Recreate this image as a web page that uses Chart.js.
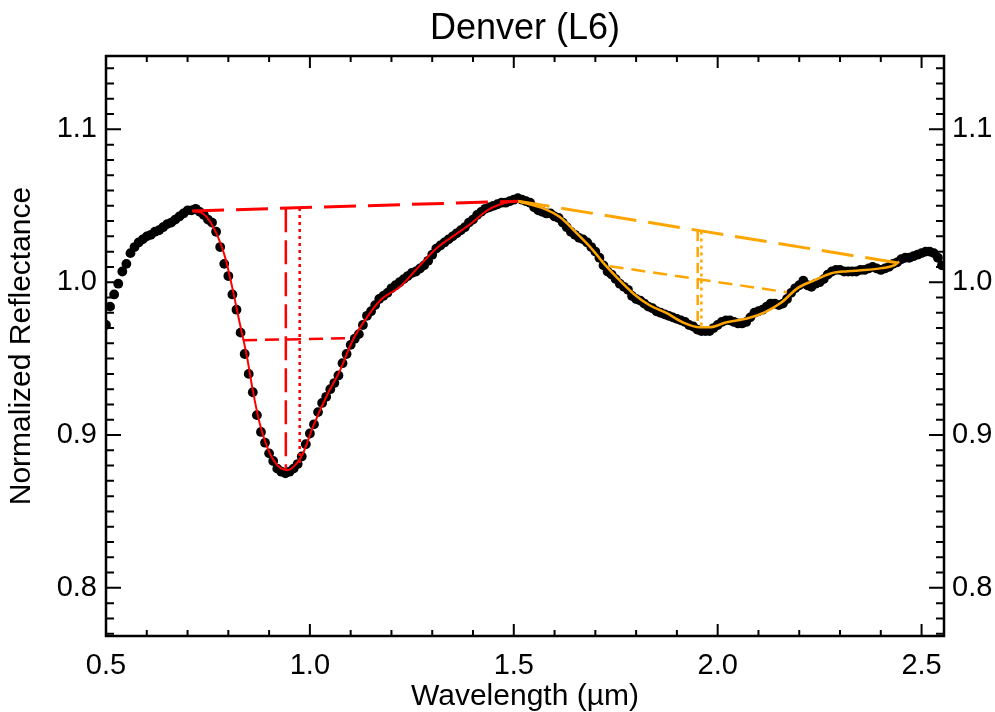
<!DOCTYPE html>
<html>
<head>
<meta charset="utf-8">
<title>Denver (L6)</title>
<script src="https://cdn.jsdelivr.net/npm/chart.js@4.4.1/dist/chart.umd.min.js"></script>
<style>
  html, body { margin: 0; padding: 0; background: #fff; }
  #wrap { width: 995px; height: 712px; }
</style>
</head>
<body>
<div id="wrap"><canvas id="spectrumChart" width="995" height="712"></canvas></div>
<script>
// Measured spectrum (black dots)
const wavelength = [
  0.50, 0.51, 0.52, 0.53, 0.54, 0.55, 0.56, 0.57, 0.58, 0.59,
  0.60, 0.61, 0.62, 0.63, 0.64, 0.65, 0.66, 0.67, 0.68, 0.69,
  0.70, 0.71, 0.72, 0.73, 0.74, 0.75, 0.76, 0.77, 0.78, 0.79,
  0.80, 0.81, 0.82, 0.83, 0.84, 0.85, 0.86, 0.87, 0.88, 0.89,
  0.90, 0.91, 0.92, 0.93, 0.94, 0.95, 0.96, 0.97, 0.98, 0.99,
  1.00, 1.01, 1.02, 1.03, 1.04, 1.05, 1.06, 1.07, 1.08, 1.09,
  1.10, 1.11, 1.12, 1.13, 1.14, 1.15, 1.16, 1.17, 1.18, 1.19,
  1.20, 1.21, 1.22, 1.23, 1.24, 1.25, 1.26, 1.27, 1.28, 1.29,
  1.30, 1.31, 1.32, 1.33, 1.34, 1.35, 1.36, 1.37, 1.38, 1.39,
  1.40, 1.41, 1.42, 1.43, 1.44, 1.45, 1.46, 1.47, 1.48, 1.49,
  1.50, 1.51, 1.52, 1.53, 1.54, 1.55, 1.56, 1.57, 1.58, 1.59,
  1.60, 1.61, 1.62, 1.63, 1.64, 1.65, 1.66, 1.67, 1.68, 1.69,
  1.70, 1.71, 1.72, 1.73, 1.74, 1.75, 1.76, 1.77, 1.78, 1.79,
  1.80, 1.81, 1.82, 1.83, 1.84, 1.85, 1.86, 1.87, 1.88, 1.89,
  1.90, 1.91, 1.92, 1.93, 1.94, 1.95, 1.96, 1.97, 1.98, 1.99,
  2.00, 2.01, 2.02, 2.03, 2.04, 2.05, 2.06, 2.07, 2.08, 2.09,
  2.10, 2.11, 2.12, 2.13, 2.14, 2.15, 2.16, 2.17, 2.18, 2.19,
  2.20, 2.21, 2.22, 2.23, 2.24, 2.25, 2.26, 2.27, 2.28, 2.29,
  2.30, 2.31, 2.32, 2.33, 2.34, 2.35, 2.36, 2.37, 2.38, 2.39,
  2.40, 2.41, 2.42, 2.43, 2.44, 2.45, 2.46, 2.47, 2.48, 2.49,
  2.50, 2.51, 2.52, 2.53, 2.54, 2.55
];
const reflectance = [
  0.972, 0.984, 0.992, 0.999, 1.007, 1.012, 1.019, 1.023, 1.026, 1.028,
  1.030, 1.031, 1.033, 1.034, 1.036, 1.038, 1.039, 1.041, 1.043, 1.045,
  1.047, 1.047, 1.048, 1.046, 1.044, 1.041, 1.039, 1.033, 1.023, 1.012,
  1.004, 0.992, 0.982, 0.967, 0.953, 0.940, 0.928, 0.913, 0.902, 0.895,
  0.888, 0.883, 0.878, 0.876, 0.875, 0.876, 0.878, 0.881, 0.886, 0.894,
  0.901, 0.907, 0.915, 0.921, 0.925, 0.930, 0.934, 0.939, 0.947, 0.953,
  0.959, 0.963, 0.966, 0.972, 0.978, 0.981, 0.985, 0.989, 0.991, 0.993,
  0.996, 0.998, 1.000, 1.002, 1.004, 1.006, 1.007, 1.009, 1.011, 1.014,
  1.018, 1.022, 1.024, 1.026, 1.028, 1.030, 1.032, 1.034, 1.036, 1.039,
  1.041, 1.044, 1.046, 1.048, 1.049, 1.050, 1.051, 1.052, 1.052, 1.053,
  1.054, 1.055, 1.054, 1.053, 1.052, 1.049, 1.047, 1.046, 1.045, 1.045,
  1.043, 1.042, 1.039, 1.036, 1.033, 1.031, 1.029, 1.028, 1.026, 1.023,
  1.020, 1.016, 1.011, 1.007, 1.005, 1.002, 0.999, 0.997, 0.995, 0.991,
  0.989, 0.988, 0.986, 0.984, 0.983, 0.981, 0.980, 0.979, 0.978, 0.977,
  0.976, 0.975, 0.974, 0.972, 0.971, 0.969, 0.968, 0.968, 0.968, 0.970,
  0.972, 0.974, 0.975, 0.975, 0.974, 0.973, 0.973, 0.974, 0.977, 0.980,
  0.981, 0.982, 0.984, 0.986, 0.986, 0.985, 0.986, 0.989, 0.993, 0.996,
  0.998, 1.001, 0.998, 0.997, 0.999, 1.000, 1.002, 1.005, 1.007, 1.008,
  1.008, 1.007, 1.007, 1.007, 1.007, 1.008, 1.008, 1.009, 1.010, 1.009,
  1.008, 1.009, 1.010, 1.012, 1.013, 1.015, 1.016, 1.016, 1.017, 1.018,
  1.019, 1.020, 1.020, 1.019, 1.016, 1.011
];

// Band I (red)
const bandIFitX = [0.711, 0.740, 0.767, 0.792, 0.811, 0.828, 0.846, 0.860, 0.877, 0.902,
  0.926, 0.944, 0.963, 0.983, 1.007, 1.042, 1.074, 1.105, 1.140, 1.172,
  1.221, 1.275, 1.314, 1.355, 1.397, 1.436, 1.478, 1.510];
const bandIFitY = [1.0466, 1.0445, 1.0341, 1.0164, 0.9948, 0.9731, 0.9508, 0.9292, 0.9075, 0.8879,
  0.8787, 0.8770, 0.8800, 0.8879, 0.9050, 0.9260, 0.9423, 0.9620, 0.9770, 0.9880,
  0.9970, 1.0125, 1.0230, 1.0308, 1.0387, 1.0472, 1.0518, 1.0530];
const bandIContX = [0.711, 1.510];
const bandIContY = [1.0466, 1.0530];
const bandICenterX = [0.941, 0.941];
const bandICenterY = [1.0483, 0.8770];
const bandICentroidX = [0.975, 0.975];
const bandICentroidY = [1.0486, 0.8800];
const bandIHalfX = [0.836, 1.095];
const bandIHalfY = [0.9620, 0.9633];

// Band II (orange)
const bandIIFitX = [1.510, 1.527, 1.571, 1.613, 1.654, 1.694, 1.718, 1.752, 1.792, 1.833,
  1.875, 1.914, 1.956, 1.980, 2.022, 2.074, 2.115, 2.157, 2.196, 2.238,
  2.279, 2.319, 2.360, 2.402, 2.434, 2.445];
const bandIIFitY = [1.0530, 1.0518, 1.0485, 1.0426, 1.0321, 1.0210, 1.0131, 1.0033, 0.9928, 0.9849,
  0.9797, 0.9738, 0.9705, 0.9705, 0.9738, 0.9764, 0.9803, 0.9869, 0.9961, 1.0013,
  1.0059, 1.0072, 1.0079, 1.0092, 1.0111, 1.0135];
const bandIIContX = [1.510, 2.445];
const bandIIContY = [1.0530, 1.0125];
const bandIICenterX = [1.951, 1.951];
const bandIICenterY = [1.0335, 0.9705];
const bandIICentroidX = [1.960, 1.960];
const bandIICentroidY = [1.0332, 0.9705];
const bandIIHalfX = [1.735, 2.170];
const bandIIHalfY = [1.0105, 0.9934];

// Axes
const xMajorTicks = [0.5, 1.0, 1.5, 2.0, 2.5];
const yMajorTicks = [0.8, 0.9, 1.0, 1.1];
const chartTitle = 'Denver (L6)';

const RED = '#ff0000';
const ORANGE = '#ffa500';
const FONT = "'Liberation Sans', Arial, Helvetica, sans-serif";

function pairs(xs, ys) {
  return xs.map((x, i) => ({ x: x, y: ys[i] }));
}

function lineSet(xs, ys, color, width, dash, smooth) {
  return {
    type: 'line',
    data: pairs(xs, ys),
    borderColor: color,
    borderWidth: width,
    borderDash: dash,
    pointRadius: 0,
    fill: false,
    cubicInterpolationMode: smooth ? 'monotone' : 'default',
    tension: 0,
    clip: 0,
    order: 1
  };
}

// Inward ticks on all four sides, the box, and the title centred over the plot
const frameTicks = {
  id: 'frameTicks',
  afterDatasetsDraw(chart) {
    const { ctx, chartArea: a } = chart;
    const x = chart.scales.x, y = chart.scales.y;
    ctx.save();
    ctx.strokeStyle = '#000';
    ctx.lineWidth = 2;
    ctx.beginPath();
    for (let i = 5; i <= 25; i++) {
      const px = x.getPixelForValue(i / 10);
      const len = i % 5 === 0 ? 12 : 6;
      ctx.moveTo(px, a.bottom); ctx.lineTo(px, a.bottom - len);
      ctx.moveTo(px, a.top); ctx.lineTo(px, a.top + len);
    }
    for (let i = 77; i <= 114; i++) {
      const py = y.getPixelForValue(i / 100);
      const len = i % 10 === 0 ? 15 : 8;
      ctx.moveTo(a.left, py); ctx.lineTo(a.left + len, py);
      ctx.moveTo(a.right, py); ctx.lineTo(a.right - len, py);
    }
    ctx.stroke();
    ctx.lineWidth = 2.5;
    ctx.strokeRect(a.left, a.top, a.right - a.left, a.bottom - a.top);

    ctx.fillStyle = '#000';
    ctx.font = '36px ' + FONT;
    ctx.textAlign = 'center';
    ctx.textBaseline = 'middle';
    ctx.fillText(chartTitle, (a.left + a.right) / 2, 29);
    ctx.restore();
  }
};

const yLimits = { min: 0.7685, max: 1.148 };

new Chart(document.getElementById('spectrumChart').getContext('2d'), {
  type: 'scatter',
  data: {
    datasets: [
      lineSet(bandIFitX, bandIFitY, RED, 2, [], true),
      lineSet(bandIContX, bandIContY, RED, 3, [32, 12], false),
      lineSet(bandICenterX, bandICenterY, RED, 2.5, [24, 8], false),
      lineSet(bandICentroidX, bandICentroidY, RED, 2.5, [3, 4], false),
      lineSet(bandIHalfX, bandIHalfY, RED, 2.5, [14, 8], false),
      lineSet(bandIIFitX, bandIIFitY, ORANGE, 2.5, [], true),
      lineSet(bandIIContX, bandIIContY, ORANGE, 3, [32, 12], false),
      lineSet(bandIICenterX, bandIICenterY, ORANGE, 2.5, [10, 6], false),
      lineSet(bandIICentroidX, bandIICentroidY, ORANGE, 2.5, [3, 4], false),
      lineSet(bandIIHalfX, bandIIHalfY, ORANGE, 2.5, [14, 8], false),
      {
        label: 'Spectrum',
        data: pairs(wavelength, reflectance),
        pointRadius: 4.9,
        pointBackgroundColor: '#000',
        pointBorderWidth: 0,
        showLine: false,
        clip: 0,
        order: 10
      }
    ]
  },
  options: {
    responsive: false,
    animation: false,
    devicePixelRatio: 1,
    layout: { padding: { top: 56, left: 0, right: 0, bottom: 0 } },
    plugins: {
      legend: { display: false },
      tooltip: { enabled: false },
      title: { display: false }
    },
    scales: {
      x: {
        type: 'linear',
        position: 'bottom',
        min: 0.5,
        max: 2.555,
        grid: { display: false, drawTicks: false },
        border: { display: false },
        afterBuildTicks: s => { s.ticks = xMajorTicks.map(v => ({ value: v })); },
        afterFit: s => { s.height = 76; },
        ticks: {
          color: '#000',
          padding: 13,
          maxRotation: 0,
          font: { family: FONT, size: 29 },
          callback: v => v.toFixed(1)
        },
        title: {
          display: true,
          text: 'Wavelength (µm)',
          color: '#000',
          font: { family: FONT, size: 30, lineHeight: 1 },
          padding: { top: 0, bottom: 0 }
        }
      },
      y: {
        type: 'linear',
        position: 'left',
        min: yLimits.min,
        max: yLimits.max,
        grid: { display: false, drawTicks: false },
        border: { display: false },
        afterBuildTicks: s => { s.ticks = yMajorTicks.map(v => ({ value: v })); },
        afterFit: s => { s.width = 106; },
        ticks: {
          color: '#000',
          padding: 9,
          font: { family: FONT, size: 29 },
          callback: v => v.toFixed(1)
        },
        title: {
          display: true,
          text: 'Normalized Reflectance',
          color: '#000',
          font: { family: FONT, size: 30, lineHeight: 1 },
          padding: { top: 7, bottom: 0 }
        }
      },
      y2: {
        type: 'linear',
        position: 'right',
        min: yLimits.min,
        max: yLimits.max,
        grid: { display: false, drawTicks: false },
        border: { display: false },
        afterBuildTicks: s => { s.ticks = yMajorTicks.map(v => ({ value: v })); },
        afterFit: s => { s.width = 51; },
        ticks: {
          color: '#000',
          padding: 8,
          font: { family: FONT, size: 29 },
          callback: v => v.toFixed(1)
        }
      }
    }
  },
  plugins: [frameTicks]
});
</script>
</body>
</html>
